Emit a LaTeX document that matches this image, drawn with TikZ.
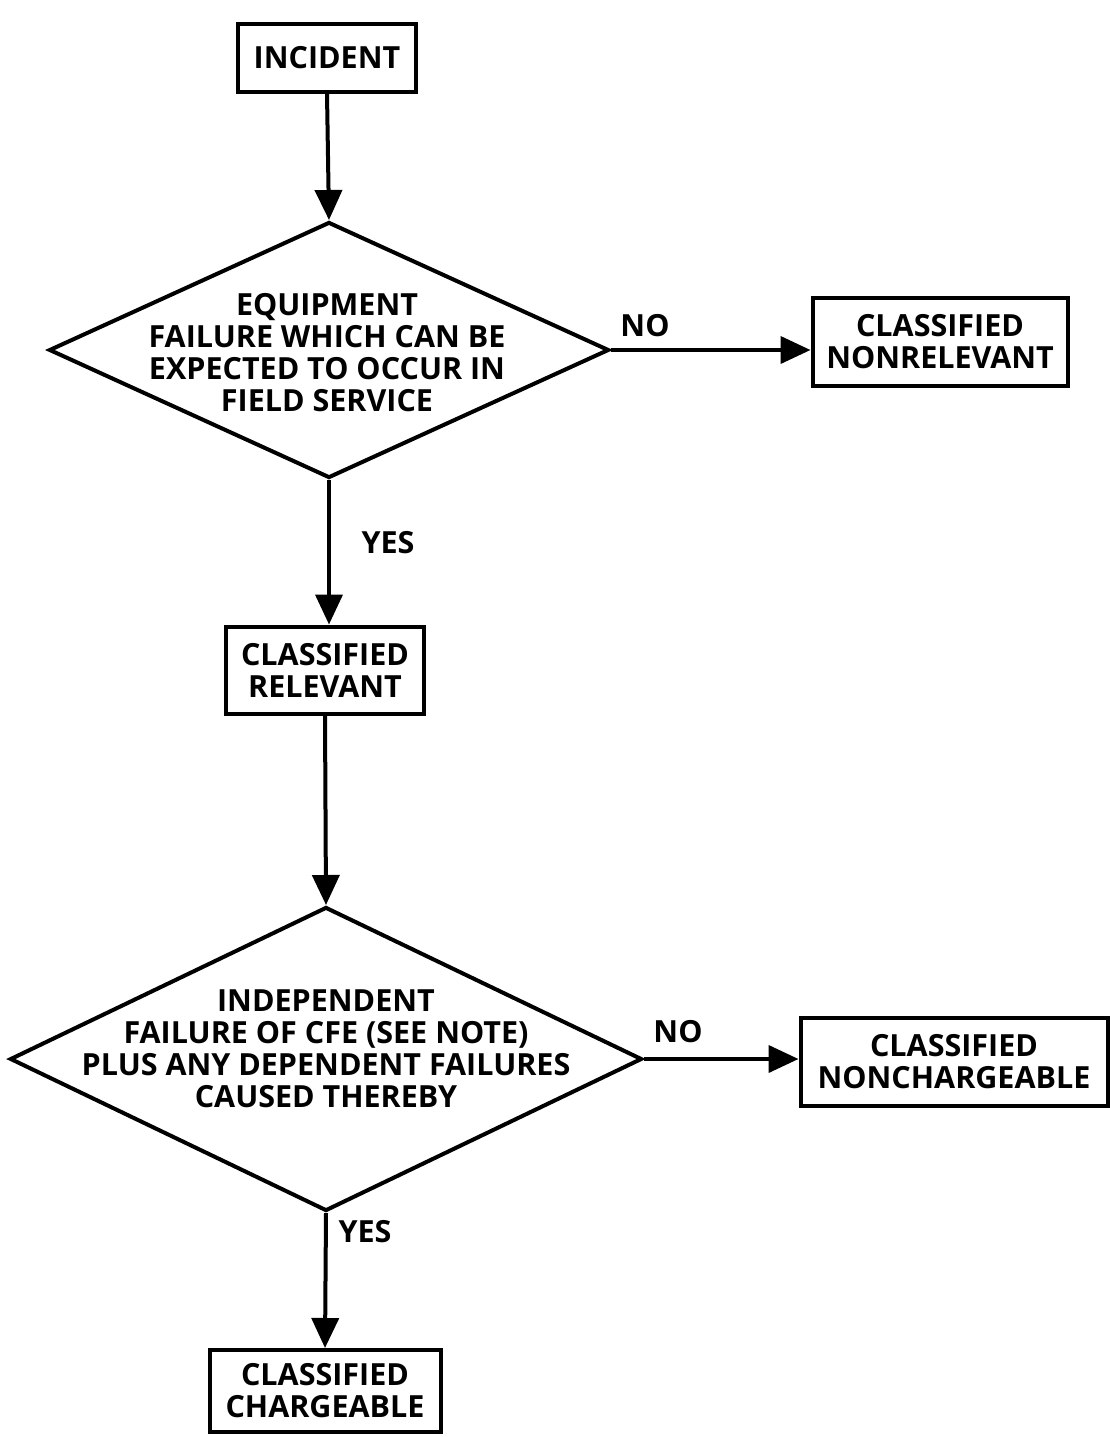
\documentclass[tikz,border=0pt]{standalone}
\usepackage{fontspec}
\setmainfont{Open Sans}
\usetikzlibrary{shapes.geometric,arrows.meta}
\tikzset{
  lbl/.style={font=\fontsize{30.5}{32}\selectfont\bfseries, align=center, inner sep=0pt},
  boxnode/.style={draw, line width=4pt, font=\fontsize{30.5}{32}\selectfont\bfseries, align=center, inner sep=0pt},
  dia/.style={draw, shape=diamond, line width=4pt, inner sep=0pt},
  flow/.style={line width=4pt, -{Triangle[length=30pt,width=27pt]}},
}
\begin{document}
\begin{tikzpicture}[x=1pt,y=-1pt]
\useasboundingbox (0,0) rectangle (1109,1437);
% boxes
\node[boxnode, minimum width=178pt, minimum height=67pt] (inc) at (327,58) {INCIDENT};
\node[dia, minimum width=560pt, minimum height=256pt] (d1) at (329,350) {};
\node[lbl] (d1t) at (327,353) {EQUIPMENT\\FAILURE WHICH CAN BE\\EXPECTED TO OCCUR IN\\FIELD SERVICE};
\node[boxnode, minimum width=255pt, minimum height=88pt] (nonrel) at (940,342) {CLASSIFIED\\NONRELEVANT};
\node[boxnode, minimum width=198pt, minimum height=87pt] (rel) at (325,670) {CLASSIFIED\\RELEVANT};
\node[dia, minimum width=632pt, minimum height=304pt] (d2) at (326,1059) {};
\node[lbl] (d2t) at (326,1049) {INDEPENDENT\\FAILURE OF CFE (SEE NOTE)\\PLUS ANY DEPENDENT FAILURES\\CAUSED THEREBY};
\node[boxnode, minimum width=307pt, minimum height=88pt] (nonch) at (954,1062) {CLASSIFIED\\NONCHARGEABLE};
\node[boxnode, minimum width=231pt, minimum height=82pt] (charg) at (325,1391) {CLASSIFIED\\CHARGEABLE};
% labels
\node[lbl] (no1) at (645,326) {NO};
\node[lbl] (yes1) at (388,543) {YES};
\node[lbl] (no2) at (678,1032) {NO};
\node[lbl] (yes2) at (365,1232) {YES};
% connectors
\draw[flow] (inc.south) -- (d1.north);
\draw[flow] (d1.east) -- (nonrel.west |- d1.east);
\draw[flow] (d1.south) -- (d1.south |- rel.north);
\draw[flow] (rel.south) -- (d2.north);
\draw[flow] (d2.east) -- (nonch.west |- d2.east);
\draw[flow] (d2.south) -- (charg.north);
\end{tikzpicture}
\end{document}
